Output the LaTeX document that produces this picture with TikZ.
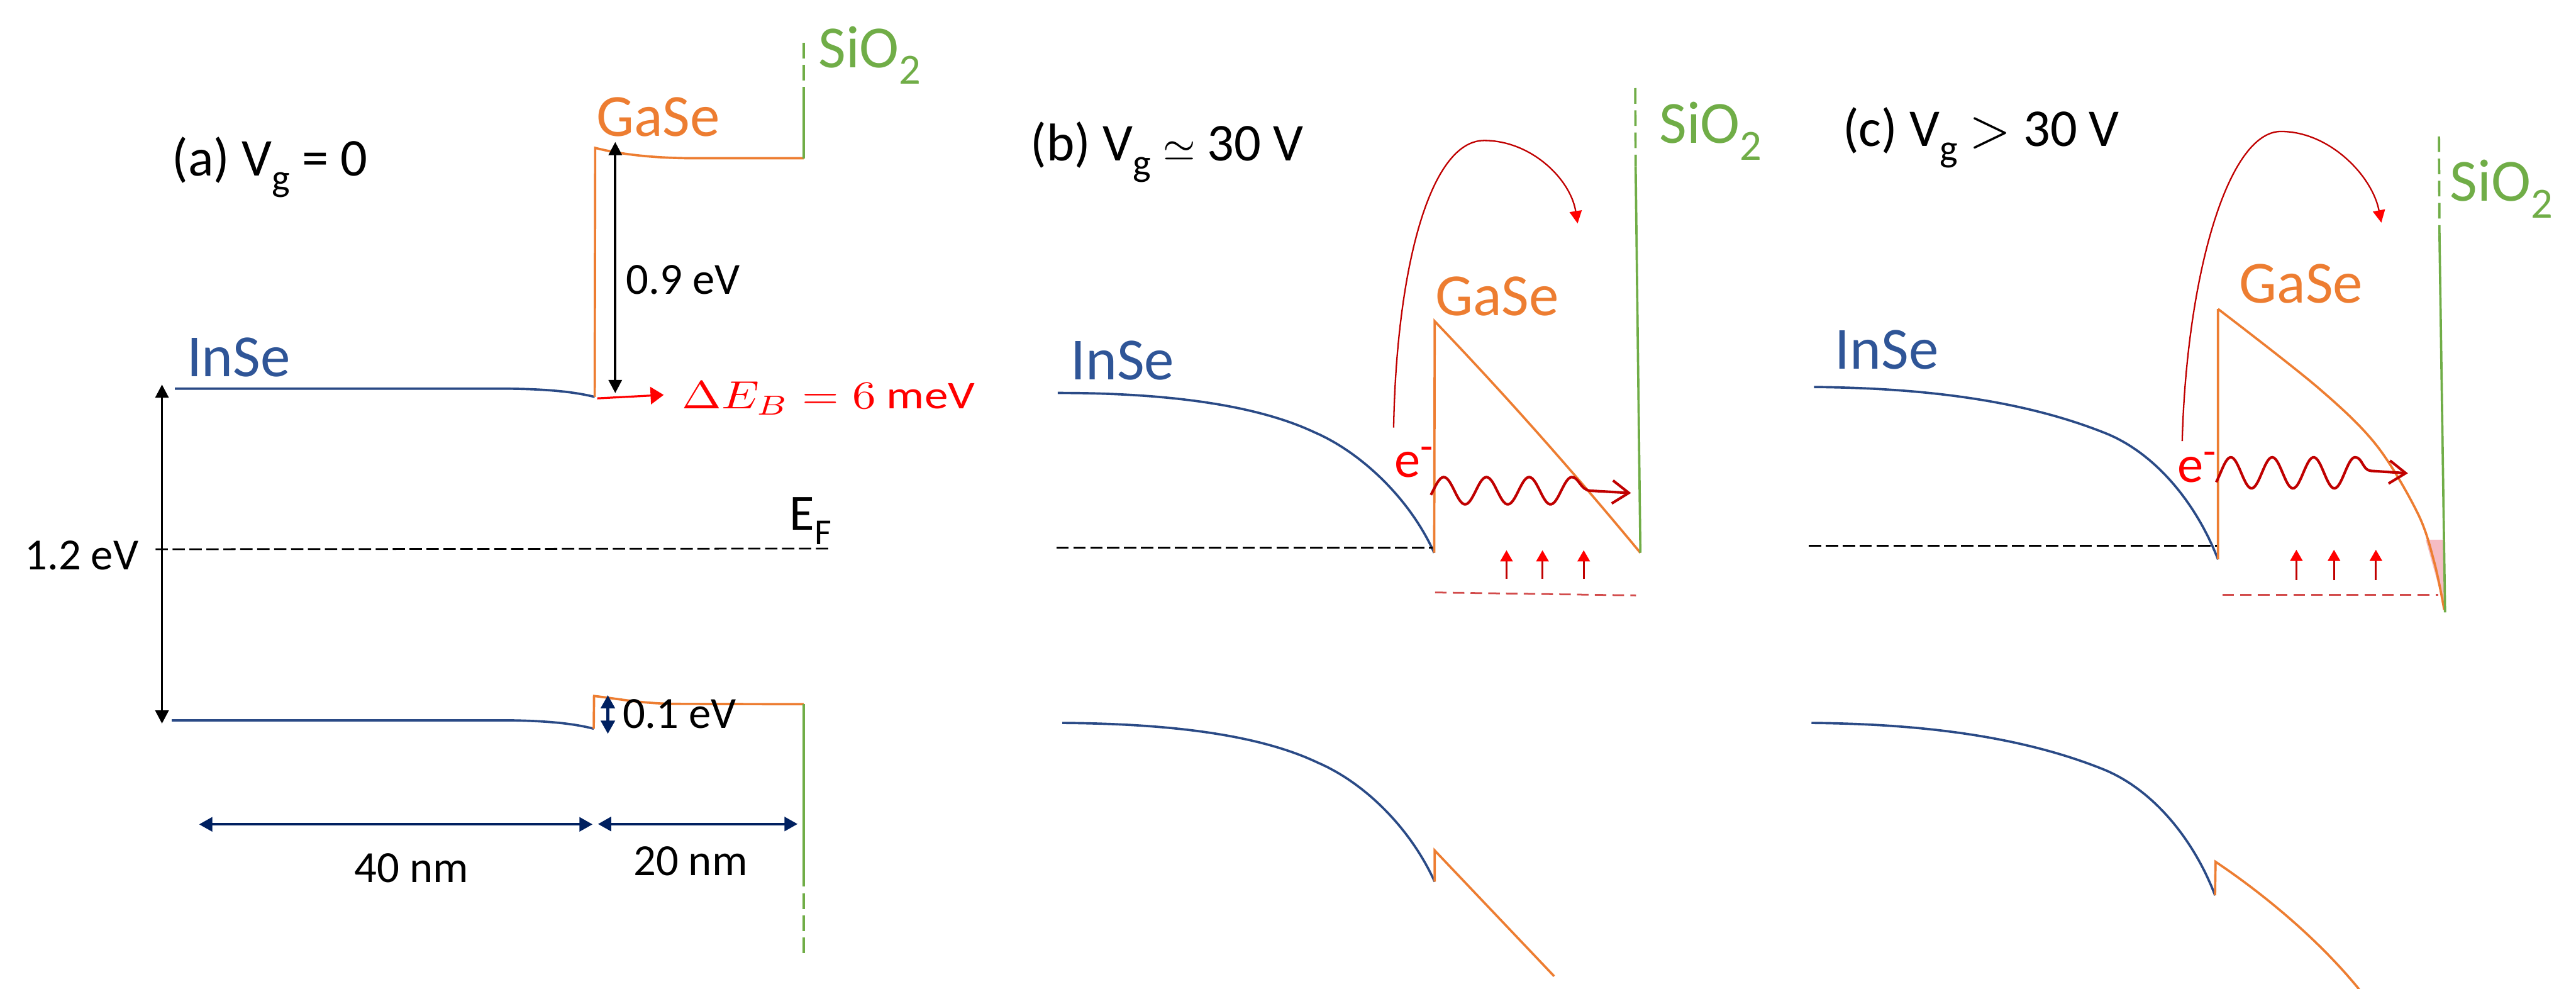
\documentclass[tikz,border=0pt]{standalone}
\usepackage{fontspec}
\setmainfont{Carlito}
\usepackage{graphicx}
\usetikzlibrary{arrows.meta}

\definecolor{inse}{HTML}{2F5597}
\definecolor{inseline}{HTML}{2A4A86}
\definecolor{gase}{HTML}{ED7D31}
\definecolor{sio}{HTML}{70AD47}
\definecolor{navy}{HTML}{002060}
\definecolor{dred}{HTML}{C00000}
\definecolor{lred}{HTML}{D24B4B}
\definecolor{pinkf}{HTML}{F5BCC3}

\newcommand\lowsub[1]{\raisebox{-0.28em}{\scalebox{0.72}{#1}}}
\newcommand\upmin{\raisebox{0.32em}{\scalebox{0.8}{-}}}

\begin{document}
\begin{tikzpicture}[x=0.01cm, y=-0.01cm,
  bandl/.style={line width=0.4pt},
  insel/.style={bandl, draw=inseline},
  gasel/.style={bandl, draw=gase},
  siol/.style={bandl, draw=sio},
  siodash/.style={siol, dash pattern=on 0.95mm off 0.4mm},
  efline/.style={black, line width=0.3pt, dash pattern=on 0.75mm off 0.28mm},
  trapline/.style={lred, line width=0.3pt, dash pattern=on 0.7mm off 0.38mm},
  matlbl/.style={inner sep=0pt, anchor=base west, font=\fontsize{10.35}{12}\selectfont},
  paneltitle/.style={inner sep=0pt, anchor=base west, font=\fontsize{9.2}{11}\selectfont},
  smalllbl/.style={inner sep=0pt, font=\fontsize{7.7}{9}\selectfont},
  blackdim/.style={black, line width=0.4pt, {Triangle[length=0.8mm,width=0.8mm]}-{Triangle[length=0.8mm,width=0.8mm]}},
  navydim/.style={navy, line width=0.45pt, {Triangle[length=0.8mm,width=0.85mm]}-{Triangle[length=0.8mm,width=0.85mm]}},
  hop/.style={dred, line width=0.25pt, -{Triangle[length=0.76mm,width=0.74mm,color=red]}},
  wavyarrow/.style={dred, line width=0.45pt, -{Straight Barb[length=1mm,width=1.4mm]}},
  upar/.style={dred, line width=0.3pt, -{Triangle[length=0.68mm,width=0.75mm,color=red]}},
  elbl/.style={inner sep=0pt, anchor=base west, text=red, font=\fontsize{9}{11}\selectfont},
]
\fill[white] (0,0) rectangle (1568,601.7);
\useasboundingbox (0,0) rectangle (1568,601.7);

%================ panel (a) =================
\node[paneltitle] (ta) at (104,107) {(a) V\lowsub{g} = 0};
\node[matlbl, text=inse] (inA) at (113,229) {InSe};
\node[matlbl, text=gase] (gaA) at (362.3,83) {GaSe};
\node[matlbl, text=sio] (siA) at (497.5,41.1) {SiO\lowsub{2}};

% InSe bands
\draw[insel] (106.5,236.5) -- (309,236.5) .. controls (335,236.8) and (350,238.6) .. (362,241.5);
\draw[insel] (104.6,438.3) -- (309,438.3) .. controls (335,438.6) and (350,440.5) .. (361.4,443.4);
% GaSe bands
\draw[gasel] (362,241.5) -- (362.3,90) .. controls (372,92.5) and (390,96) .. (420,96.3) -- (489.2,96.3);
\draw[gasel] (361.4,443.4) -- (361.6,423.5) .. controls (375,425) and (390,428) .. (410,428.3) -- (489.3,428.5);
% SiO2 boundary
\draw[siodash] (489.2,26) -- (489.2,60.4);
\draw[siol] (489.2,60.4) -- (489.2,96.3);
\draw[siol] (489.3,428.5) -- (489.3,530);
\draw[siodash] (489.3,530) -- (489.3,584);
% Fermi level
\draw[efline] (94.7,334.2) -- (505,333.8);
\node[inner sep=0pt, anchor=base west, font=\fontsize{8.8}{10}\selectfont] (efA) at (480,322.6) {E\lowsub{F}};

% dimension arrows
\coordinate (a09t) at (374.5,86.4);
\coordinate (a09b) at (374.5,239.2);
\draw[blackdim] (a09t) -- (a09b);
\node[smalllbl, anchor=base west] (l09) at (380.5,179) {0.9 eV};

\coordinate (a12t) at (98.6,234);
\coordinate (a12b) at (98.6,440.3);
\draw[blackdim] (a12t) -- (a12b);
\node[smalllbl, anchor=base east] (l12) at (85,346.6) {1.2 eV};

\coordinate (a01t) at (370,423);
\coordinate (a01b) at (370,446.5);
\draw[navydim] (a01t) -- (a01b);
\node[smalllbl, anchor=base west] (l01) at (378.3,443.3) {0.1 eV};

\coordinate (a40l) at (121.2,501.6);
\coordinate (a40r) at (360.7,501.6);
\draw[navydim] (a40l) -- (a40r);
\node[smalllbl, anchor=base] (l40) at (250.4,537) {40 nm};

\coordinate (a20l) at (364,501.4);
\coordinate (a20r) at (485.5,501.4);
\draw[navydim] (a20l) -- (a20r);
\node[smalllbl, anchor=base] (l20) at (420.3,532.6) {20 nm};

% Delta E_B
\coordinate (dEs) at (363.5,242.4);
\coordinate (dEe) at (404,240.3);
\draw[red, line width=0.35pt, -{Triangle[length=0.8mm,width=1.05mm]}] (dEs) -- (dEe);
\node[inner sep=0pt, anchor=base west, text=red, font=\fontsize{10}{12}\selectfont] (dEB) at (414.5,248.8) {\scalebox{0.82}[0.68]{$\Delta E_{B} = 6\ \mathrm{meV}$}};

%================ panel (b) =================
\node[paneltitle] (tb) at (626.6,97.8) {(b) V\lowsub{g} \scalebox{0.78}{$\simeq$} 30 V};
\node[matlbl, text=inse] (inB) at (651,231) {InSe};
\node[matlbl, text=gase] (gaB) at (873,192) {GaSe};
\node[matlbl, text=sio] (siB) at (1009.3,87.2) {SiO\lowsub{2}};

\draw[insel] (643.8,239.1) .. controls (700,239.1) and (760,244.2) .. (800,263) .. controls (828,275) and (858,303) .. (873,336.4);
\draw[insel] (646.6,439.9) .. controls (702,440.3) and (762,445) .. (802,464) .. controls (830,476) and (858,503) .. (873.3,536.5);
\draw[gasel] (873,336.4) -- (873.3,195.5) .. controls (915,239) and (956.8,286) .. (998.5,336.4);
\draw[gasel] (873.3,536.5) -- (873.3,517.5) -- (946,594);
\draw[siodash] (995.4,53.6) -- (995.6,101.2);
\draw[siol] (995.6,101.2) -- (998.5,336.4);
\draw[efline] (643,333.3) -- (872,333.3);
\draw[trapline] (873.5,360.5) -- (995.8,362.3);

\draw[hop] (848.3,260.2) .. controls (850,165) and (870,85.5) .. (903.4,85.5) .. controls (932,85.5) and (956,109) .. (960.3,136);
\node[elbl] (eB) at (848,290.3) {e\upmin};
\draw[wavyarrow] plot[domain=871:956.8, samples=90, smooth] (\x, {298.6 - 8.3*sin(13.846*(\x-872.3))}) .. controls (961,290.3) and (962,298.2) .. (968,298.6) -- (992.8,300);
\foreach \xx/\nm in {917/ub1, 938.9/ub2, 964/ub3} {
  \coordinate (\nm s) at (\xx,352.2);
  \coordinate (\nm e) at (\xx,334.8);
  \draw[upar] (\nm s) -- (\nm e);
}

%================ panel (c) =================
\node[paneltitle] (tc) at (1121,89) {(c) V\lowsub{g} $>$ 30 V};
\node[matlbl, text=inse] (inC) at (1116.3,224.5) {InSe};
\node[matlbl, text=gase] (gaC) at (1362.3,184.5) {GaSe};
\node[matlbl, text=sio] (siC) at (1490.7,122.5) {SiO\lowsub{2}};

\fill[pinkf] (1476.5,328.4) -- (1487.2,328.4) -- (1487.8,369) -- cycle;
\draw[insel] (1104.2,235.5) .. controls (1171.6,236.1) and (1231.6,243.6) .. (1281.6,263.6) .. controls (1311.6,275.6) and (1336.6,305.6) .. (1350.1,340.4);
\draw[insel] (1102.6,439.9) .. controls (1170,440.5) and (1230,448) .. (1280,468) .. controls (1310,480) and (1335,510) .. (1348.3,544.8);
\draw[gasel] (1350.1,340.4) -- (1350.1,188) plot[smooth, tension=0.55] coordinates {(1350.1,188) (1410.5,235.5) (1446.2,270.5) (1471.6,312.2) (1481.8,342.4) (1487.8,371.1)};
\draw[gasel] (1348.3,544.8) -- (1348.6,524.4) .. controls (1375,542) and (1410,570) .. (1436,602);
\draw[siodash] (1484.6,83) -- (1484.9,143);
\draw[siol] (1484.9,143) -- (1488.3,372.6);
\draw[efline] (1101,332.1) -- (1349.4,332.1);
\draw[trapline] (1352.8,362) -- (1484.3,362);

\draw[hop] (1328.3,268.4) .. controls (1331,168) and (1356,80) .. (1388.4,80) .. controls (1418,80) and (1444,107) .. (1449.5,135.5);
\node[elbl] (eC) at (1324.8,293.3) {e\upmin};
\draw[wavyarrow] plot[domain=1349:1433.5, samples=90, smooth] (\x, {287.7 - 9.45*sin(14.286*(\x-1351.6))}) .. controls (1438,278.2) and (1438,286) .. (1443,286.5) -- (1465.7,288);
\foreach \xx/\nm in {1397.8/uc1, 1420.7/uc2, 1446.2/uc3} {
  \coordinate (\nm s) at (\xx,353);
  \coordinate (\nm e) at (\xx,334.5);
  \draw[upar] (\nm s) -- (\nm e);
}
\end{tikzpicture}
\end{document}
